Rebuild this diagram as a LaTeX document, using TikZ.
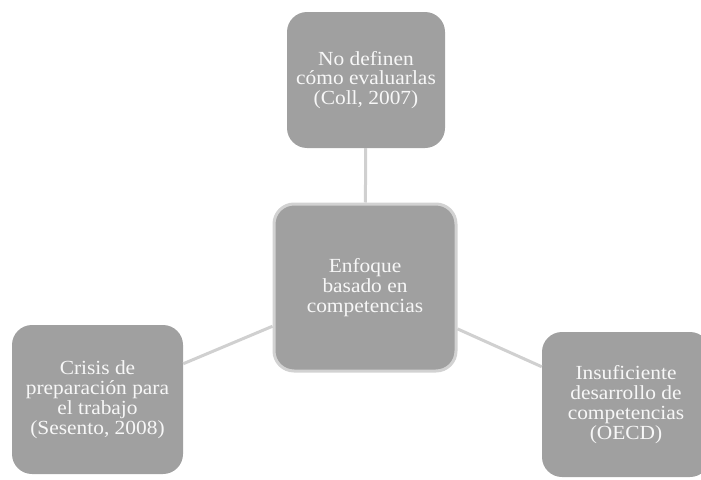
\documentclass[tikz,border=0pt]{standalone}
\usepackage{fontspec}
\setmainfont{Liberation Serif}[FakeStretch=1.07]
\definecolor{boxfill}{HTML}{A0A0A0}
\definecolor{boxedge}{HTML}{D2D2D2}
\definecolor{linkgray}{HTML}{D0D0D0}
\definecolor{boxtext}{HTML}{F7F7F7}
\begin{document}
\begin{tikzpicture}[x=1pt,y=-1pt,
  idea/.style={rectangle, rounded corners=20pt, fill=boxfill, text=boxtext,
    align=center, inner sep=0pt, font=\fontsize{20}{19.8}\selectfont},
  hub/.style={idea, draw=boxedge, line width=3pt},
  link/.style={draw=linkgray, line width=3pt}]
  \useasboundingbox (0,0) rectangle (701,479);
  \clip (0,0) rectangle (701,479);

  % central concept
  \node[hub, minimum width=182pt, minimum height=167pt] (c) at (365,287.5)
    {Enfoque\\basado en\\competencias};

  % surrounding issues
  \node[idea, minimum width=158pt, minimum height=136pt] (t) at (366,80)
    {No definen\\cómo evaluarlas\\(Coll, 2007)};
  \node[idea, minimum width=171pt, minimum height=149pt] (l) at (97.5,399.5)
    {Crisis de\\preparación para\\el trabajo\\(Sesento, 2008)};
  \node[idea, minimum width=168pt, minimum height=145pt] (r) at (626,404.5)
    {Insuficiente\\desarrollo de\\competencias\\(OECD)};

  % connectors
  \draw[link] (c) -- (t);
  \draw[link] (c) -- (l);
  \draw[link] (c) -- (r);
\end{tikzpicture}
\end{document}
